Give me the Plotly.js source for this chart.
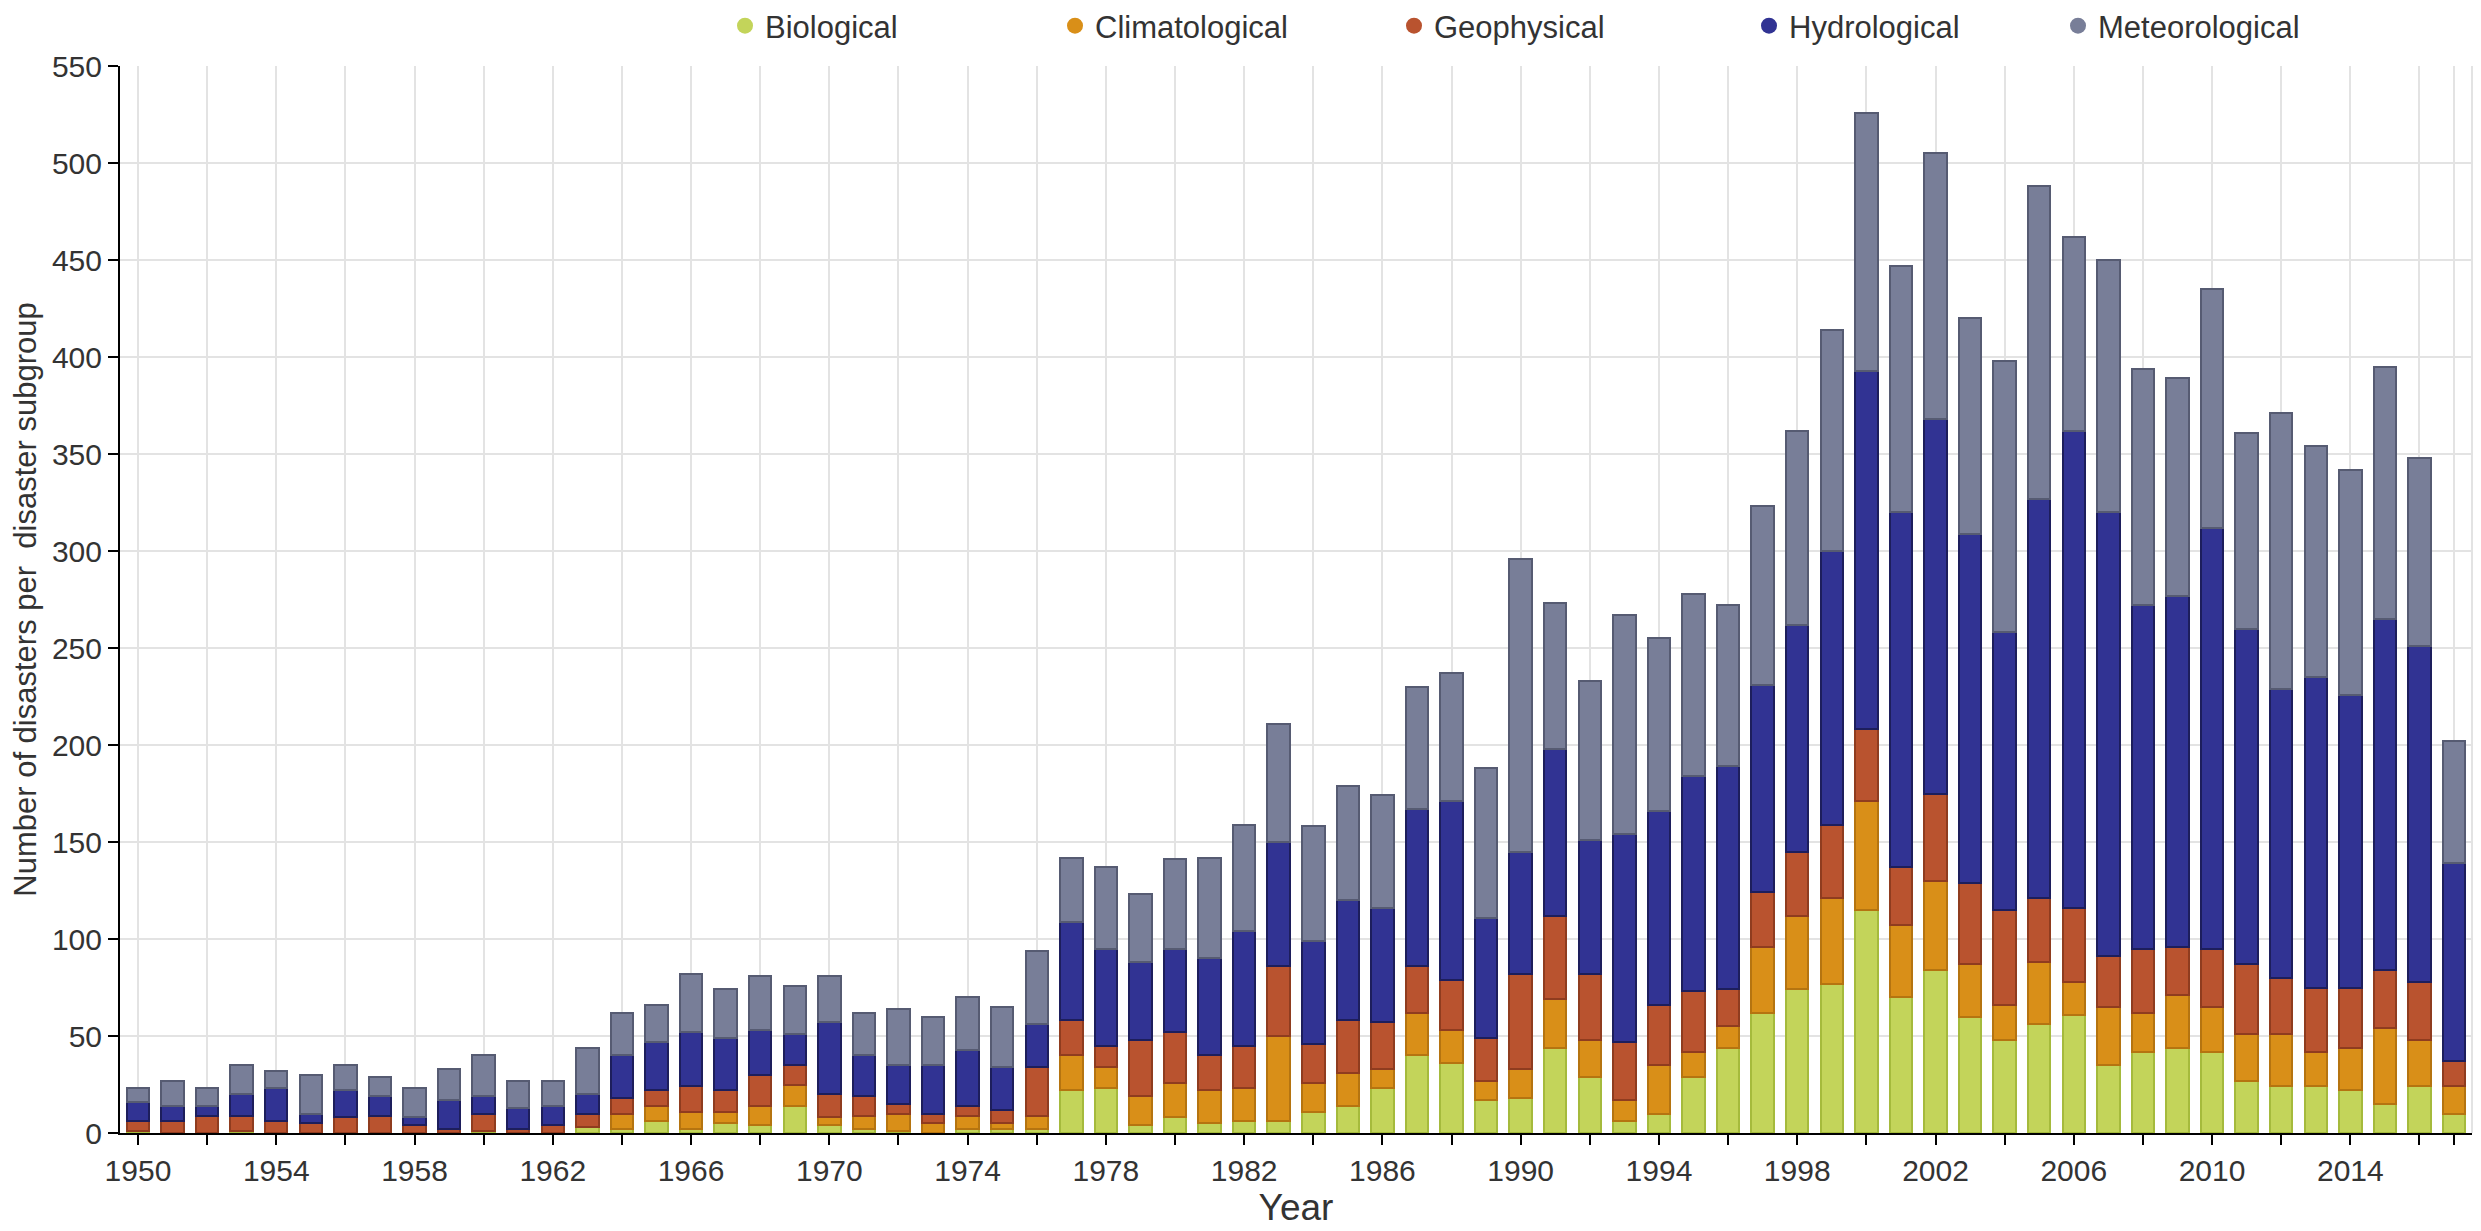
<!DOCTYPE html>
<html>
<head>
<meta charset="utf-8">
<script src="https://cdn.plot.ly/plotly-3.0.1.min.js"></script>
<style>
  html, body { margin: 0; padding: 0; background: #ffffff; }
  #chart { width: 2481px; height: 1231px; }
</style>
</head>
<body>
<div id="chart"></div>
<script>
// ---- Data ----
const years = [];
for (let y = 1950; y <= 2017; y++) years.push(y);

const biological = [
  1, 0, 0, 1, 0, 0, 0, 0, 0, 0,
  1, 0, 0, 3, 2, 6, 2, 5, 4, 14,
  4, 2, 1, 0, 2, 2, 2, 22, 23, 4,
  8, 5, 6, 6, 11, 14, 23, 40, 36, 17,
  18, 44, 29, 6, 10, 29, 44, 62, 74, 77,
  115, 70, 84, 60, 48, 56, 61, 35, 42, 44,
  42, 27, 24, 24, 22, 15, 24, 10
];
const climatological = [
  0, 0, 0, 0, 0, 0, 0, 0, 0, 0,
  0, 0, 0, 0, 8, 8, 9, 6, 10, 11,
  4, 7, 9, 5, 7, 3, 7, 18, 11, 15,
  18, 17, 17, 44, 15, 17, 10, 22, 17, 10,
  15, 25, 19, 11, 25, 13, 11, 34, 38, 44,
  56, 37, 46, 27, 18, 32, 17, 30, 20, 27,
  23, 24, 27, 18, 22, 39, 24, 14
];
const geophysical = [
  5, 6, 9, 8, 6, 5, 8, 9, 4, 2,
  9, 2, 4, 7, 8, 8, 13, 11, 16, 10,
  12, 10, 5, 5, 5, 7, 25, 18, 11, 29,
  26, 18, 22, 36, 20, 27, 24, 24, 26, 22,
  49, 43, 34, 30, 31, 31, 19, 28, 33, 38,
  37, 30, 45, 42, 49, 33, 38, 26, 33, 25,
  30, 36, 29, 33, 31, 30, 30, 13
];
const hydrological = [
  10, 8, 5, 11, 17, 5, 14, 10, 4, 15,
  9, 11, 10, 10, 22, 25, 28, 27, 23, 16,
  37, 21, 20, 25, 29, 22, 22, 51, 50, 40,
  43, 50, 59, 64, 53, 62, 59, 81, 92, 62,
  63, 86, 69, 107, 100, 111, 115, 107, 117, 141,
  185, 183, 193, 180, 143, 206, 246, 229, 177, 181,
  217, 173, 149, 160, 151, 181, 173, 102
];
const meteorological = [
  7, 13, 9, 15, 9, 20, 13, 10, 15, 16,
  21, 14, 13, 24, 22, 19, 30, 25, 28, 25,
  24, 22, 29, 25, 27, 31, 38, 33, 42, 35,
  46, 52, 55, 61, 59, 59, 58, 63, 66, 77,
  151, 75, 82, 113, 89, 94, 83, 92, 100, 114,
  133, 127, 137, 111, 140, 161, 100, 130, 122, 112,
  123, 101, 142, 119, 116, 130, 97, 63
];

const seriesNames = ['Biological', 'Climatological', 'Geophysical', 'Hydrological', 'Meteorological'];
const seriesValues = [biological, climatological, geophysical, hydrological, meteorological];
const fillColors = ['#c3d45a', '#d98f18', '#b9532f', '#313393', '#787e98'];
const lineColors = ['#a5ba3c', '#b57410', '#8f3c1f', '#1d1e5c', '#565b72'];

// tick positions: every 2 years, labels every 4 years, plus end tick
const tickVals = [];
const tickText = [];
for (let y = 1950; y <= 2016; y += 2) {
  tickVals.push(y);
  tickText.push((y - 1950) % 4 === 0 ? String(y) : '');
}
tickVals.push(2017);
tickText.push('');

const FONT = '"Liberation Sans", Arial, sans-serif';

const traces = [];
seriesNames.forEach((name, i) => {
  traces.push({
    type: 'bar',
    name: name,
    x: years,
    y: seriesValues[i],
    marker: { color: fillColors[i], line: { color: lineColors[i], width: 2 } },
    showlegend: false,
    hoverinfo: 'x+y+name'
  });
});

// legend entries (circle symbols), one legend per entry for exact placement
const legendCenters = [747, 1077, 1416, 1771, 2080];
const legendLayouts = {};
seriesNames.forEach((name, i) => {
  const key = i === 0 ? 'legend' : 'legend' + (i + 1);
  traces.push({
    type: 'scatter',
    mode: 'markers',
    name: name,
    x: [null],
    y: [null],
    marker: { symbol: 'circle', size: 16, color: fillColors[i] },
    showlegend: true,
    legend: key,
    hoverinfo: 'skip'
  });
  legendLayouts[key] = {
    orientation: 'h',
    xref: 'container',
    yref: 'container',
    x: (legendCenters[i] - 22) / 2481,
    xanchor: 'left',
    y: 1 - 26 / 1231,
    yanchor: 'middle',
    bgcolor: 'rgba(0,0,0,0)',
    borderwidth: 0,
    font: { family: FONT, size: 31, color: '#333333' },
    itemsizing: 'trace'
  };
});

const layout = Object.assign({
  width: 2481,
  height: 1231,
  margin: { l: 120, r: 9, t: 66, b: 98, pad: 0 },
  paper_bgcolor: '#ffffff',
  plot_bgcolor: '#ffffff',
  barmode: 'stack',
  bargap: 0.35,
  font: { family: FONT, color: '#333333' },
  xaxis: {
    range: [1949.48, 2017.52],
    tickmode: 'array',
    tickvals: tickVals,
    ticktext: tickText,
    ticks: 'outside',
    ticklen: 10,
    tickwidth: 2,
    tickcolor: '#000000',
    showline: true,
    linecolor: '#000000',
    linewidth: 2,
    showgrid: true,
    gridcolor: '#e3e3e3',
    gridwidth: 2,
    zeroline: false,
    tickfont: { family: FONT, size: 30, color: '#333333' },
    automargin: false,
    title: { text: 'Year', font: { family: FONT, size: 37, color: '#333333' }, standoff: 8 }
  },
  yaxis: {
    range: [0, 550],
    tickmode: 'linear',
    tick0: 0,
    dtick: 50,
    ticks: 'outside',
    ticklen: 10,
    tickwidth: 2,
    tickcolor: '#000000',
    showline: true,
    linecolor: '#000000',
    linewidth: 2,
    showgrid: true,
    gridcolor: '#e3e3e3',
    gridwidth: 2,
    zeroline: false,
    tickfont: { family: FONT, size: 30, color: '#333333' },
    automargin: false,
    title: { text: 'Number of disasters per\u00A0 disaster subgroup', font: { family: FONT, size: 31, color: '#333333' }, standoff: 6 }
  },
  shapes: [
    { type: 'line', xref: 'paper', yref: 'paper', x0: 1, x1: 1, y0: 0, y1: 1,
      line: { color: '#e3e3e3', width: 2 }, layer: 'below' }
  ]
}, legendLayouts);

Plotly.newPlot('chart', traces, layout, { displayModeBar: false, staticPlot: true });
</script>
</body>
</html>
